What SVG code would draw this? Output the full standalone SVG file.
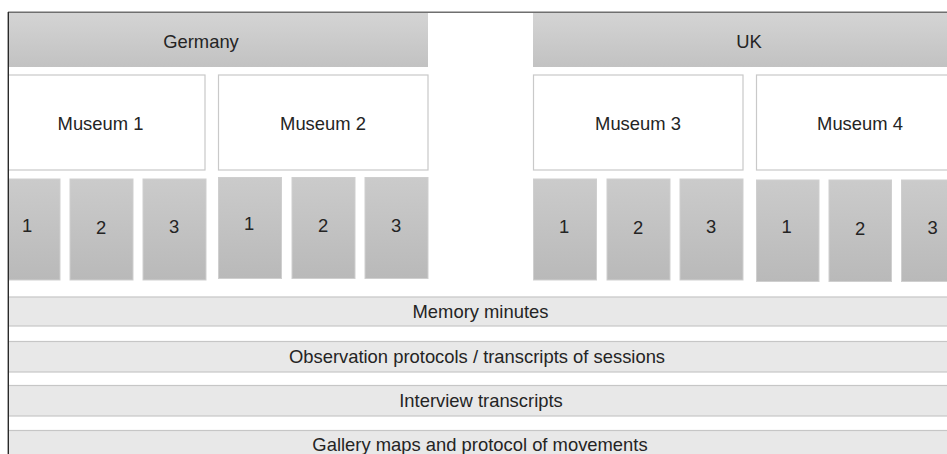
<svg xmlns="http://www.w3.org/2000/svg" width="947" height="454" viewBox="0 0 947 454">
  <defs>
    <linearGradient id="gHeader" x1="0" y1="0" x2="0" y2="1">
      <stop offset="0" stop-color="#d4d4d4"/>
      <stop offset="1" stop-color="#c2c2c2"/>
    </linearGradient>
    <linearGradient id="gSession" x1="0" y1="0" x2="0" y2="1">
      <stop offset="0" stop-color="#cbcbcb"/>
      <stop offset="1" stop-color="#b9b9b9"/>
    </linearGradient>
    <clipPath id="frameClip">
      <rect x="8.6" y="12.6" width="940" height="442"/>
    </clipPath>
    <style>
      text { font-family: "Liberation Sans", Arial, sans-serif; font-size: 18.4px; fill: #242424; text-anchor: middle; }
      .country { fill: url(#gHeader); stroke: none; }
      .museum { fill: #ffffff; stroke: #c9c9c9; stroke-width: 1.2; }
      .session { fill: url(#gSession); stroke: #cfcfcf; stroke-width: 1; }
      .source { fill: #e8e8e8; stroke: #c6c6c6; stroke-width: 1.2; }
      .frame { fill: none; stroke-width: 1.4; }
    </style>
  </defs>

  <g clip-path="url(#frameClip)">
    <!-- countries -->
    <g id="germany">
      <rect class="country" x="-26" y="13" width="454" height="54"/>
      <text x="201" y="47.5">Germany</text>
    </g>
    <g id="uk">
      <rect class="country" x="533" y="13" width="432" height="54"/>
      <text x="749" y="47.5">UK</text>
    </g>

    <!-- museums -->
    <g id="museum1">
      <rect class="museum" x="-4" y="75" width="209" height="95"/>
      <text x="100.5" y="130">Museum 1</text>
    </g>
    <g id="museum2">
      <rect class="museum" x="218.5" y="75" width="209.5" height="95"/>
      <text x="323" y="130">Museum 2</text>
    </g>
    <g id="museum3">
      <rect class="museum" x="533.5" y="75" width="209.5" height="95"/>
      <text x="638" y="130">Museum 3</text>
    </g>
    <g id="museum4">
      <rect class="museum" x="756.5" y="75" width="209.5" height="95"/>
      <text x="860" y="130">Museum 4</text>
    </g>

    <!-- sessions per museum -->
    <g id="m1-s1"><rect class="session" x="-4" y="179" width="64" height="101"/><text x="27" y="232">1</text></g>
    <g id="m1-s2"><rect class="session" x="70" y="179" width="63" height="101"/><text x="101" y="234">2</text></g>
    <g id="m1-s3"><rect class="session" x="143" y="179" width="63" height="101"/><text x="174" y="233">3</text></g>

    <g id="m2-s1"><rect class="session" x="218.5" y="177.5" width="63" height="101"/><text x="249" y="230">1</text></g>
    <g id="m2-s2"><rect class="session" x="292" y="177.5" width="63" height="101"/><text x="323" y="232">2</text></g>
    <g id="m2-s3"><rect class="session" x="365" y="177.5" width="63" height="101"/><text x="396" y="232">3</text></g>

    <g id="m3-s1"><rect class="session" x="533.5" y="179" width="63" height="101"/><text x="564" y="233">1</text></g>
    <g id="m3-s2"><rect class="session" x="607" y="179" width="63" height="101"/><text x="638" y="234">2</text></g>
    <g id="m3-s3"><rect class="session" x="680" y="179" width="63" height="101"/><text x="711" y="233">3</text></g>

    <g id="m4-s1"><rect class="session" x="756.5" y="180" width="62.5" height="101.5"/><text x="786.5" y="233">1</text></g>
    <g id="m4-s2"><rect class="session" x="829" y="180" width="62.5" height="101.5"/><text x="860" y="235">2</text></g>
    <g id="m4-s3"><rect class="session" x="901.5" y="180" width="63" height="101.5"/><text x="932.5" y="234">3</text></g>

    <!-- data sources spanning all museums -->
    <g id="memory-minutes">
      <rect class="source" x="-20" y="297" width="1000" height="29"/>
      <text x="480.5" y="318">Memory minutes</text>
    </g>
    <g id="observation-protocols">
      <rect class="source" x="-20" y="341.5" width="1000" height="30.5"/>
      <text x="477" y="363">Observation protocols / transcripts of sessions</text>
    </g>
    <g id="interview-transcripts">
      <rect class="source" x="-20" y="385.5" width="1000" height="30.5"/>
      <text x="481" y="407">Interview transcripts</text>
    </g>
    <g id="gallery-maps">
      <rect class="source" x="-20" y="430.5" width="1000" height="40"/>
      <text x="480" y="451">Gallery maps and protocol of movements</text>
    </g>
  </g>

  <!-- outer frame edges -->
  <line class="frame" x1="8" y1="12.3" x2="947" y2="12.3" stroke="#6f6f6f"/>
  <line class="frame" x1="8.3" y1="12" x2="8.3" y2="454" stroke="#2a2a2a"/>
</svg>
